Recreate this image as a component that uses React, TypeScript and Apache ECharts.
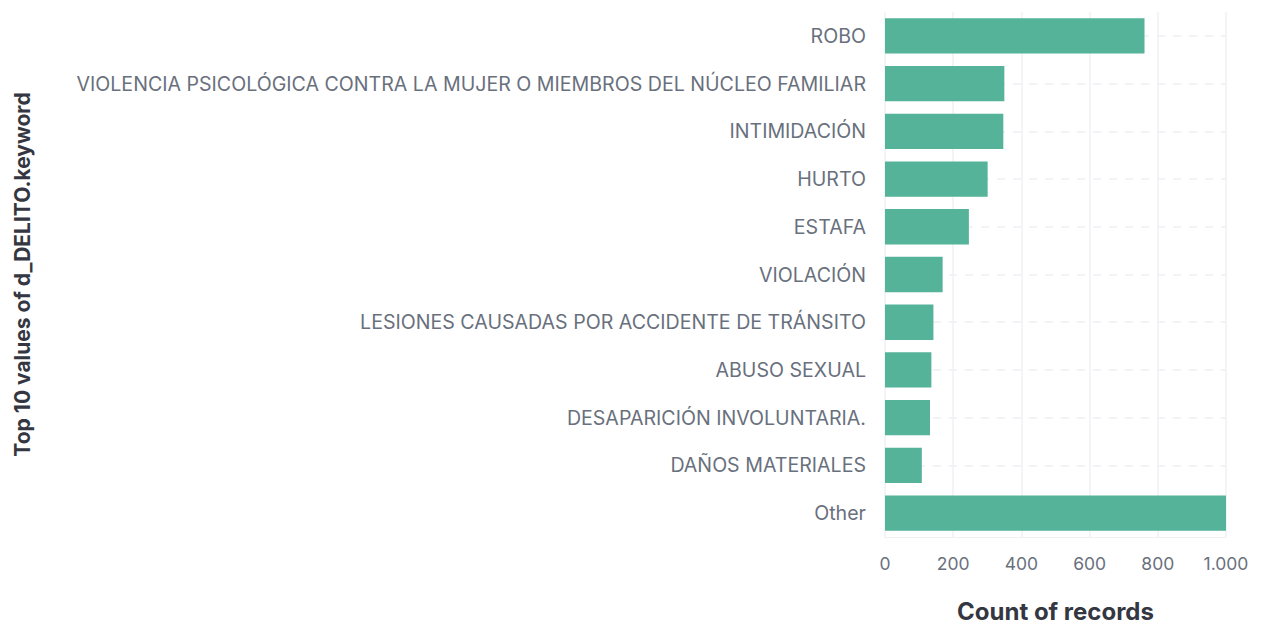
import React, { useEffect, useRef } from "react";
import * as echarts from "echarts";

const categories = [
  "ROBO",
  "VIOLENCIA PSICOLÓGICA CONTRA LA MUJER O MIEMBROS DEL NÚCLEO FAMILIAR",
  "INTIMIDACIÓN",
  "HURTO",
  "ESTAFA",
  "VIOLACIÓN",
  "LESIONES CAUSADAS POR ACCIDENTE DE TRÁNSITO",
  "ABUSO SEXUAL",
  "DESAPARICIÓN INVOLUNTARIA.",
  "DAÑOS MATERIALES",
  "Other",
];
const counts = [761, 350, 347, 301, 246, 169, 142, 136, 132, 108, 1000];
const xTicks = [0, 200, 400, 600, 800, 1000];

const fmt = (v: number) => String(v).replace(/\B(?=(\d{3})+(?!\d))/g, ".");

export default function App() {
  const ref = useRef<HTMLDivElement>(null);
  useEffect(() => {
    document.body.style.margin = "0";
    document.body.style.overflow = "hidden";
    if (!ref.current) return;
    const chart = echarts.init(ref.current, undefined, { renderer: "svg" });
    const font = "Inter, 'Noto Sans', sans-serif";
    chart.setOption({
      animation: false,
      backgroundColor: "#ffffff",
      grid: {
        left: 885,
        right: 42,
        top: 12,
        bottom: 87,
        containLabel: false,
        outerBoundsMode: "none",
      },
      xAxis: {
        type: "value",
        min: xTicks[0],
        max: xTicks[xTicks.length - 1],
        interval: 200,
        name: "Count of records",
        nameLocation: "middle",
        nameGap: 62,
        nameTextStyle: { color: "#343741", fontSize: 24, fontWeight: "bold", fontFamily: font },
        axisLine: { show: true, lineStyle: { color: "#eef0f3" } },
        axisTick: { show: false },
        axisLabel: {
          color: "#69707d",
          fontSize: 17.5,
          fontFamily: font,
          margin: 17,
          formatter: (v: number) => fmt(v),
        },
        splitLine: { show: true, lineStyle: { color: "#eef0f3", width: 1.5 } },
      },
      yAxis: {
        type: "category",
        data: categories,
        inverse: true,
        name: "Top 10 values of d_DELITO.keyword",
        nameLocation: "middle",
        nameGap: 852,
        nameTextStyle: { color: "#343741", fontSize: 21, fontWeight: "bold", fontFamily: font },
        axisLine: { show: false },
        axisTick: { show: false },
        axisLabel: { color: "#69707d", fontSize: 19.6, fontFamily: font, margin: 19 },
        splitLine: { show: false },
      },
      series: [
        {
          type: "bar",
          data: counts,
          barCategoryGap: "26%",
          z: 10,
          itemStyle: { color: "#54b399" },
          markLine: {
            silent: true,
            symbol: "none",
            z: 1,
            label: { show: false },
            lineStyle: { color: "#eef0f3", type: [8, 8], width: 1.5 },
            data: categories.map((c) => ({ yAxis: c })),
          },
        },
      ],
    });
    return () => chart.dispose();
  }, []);
  return <div ref={ref} style={{ width: 1268, height: 624 }} />;
}
